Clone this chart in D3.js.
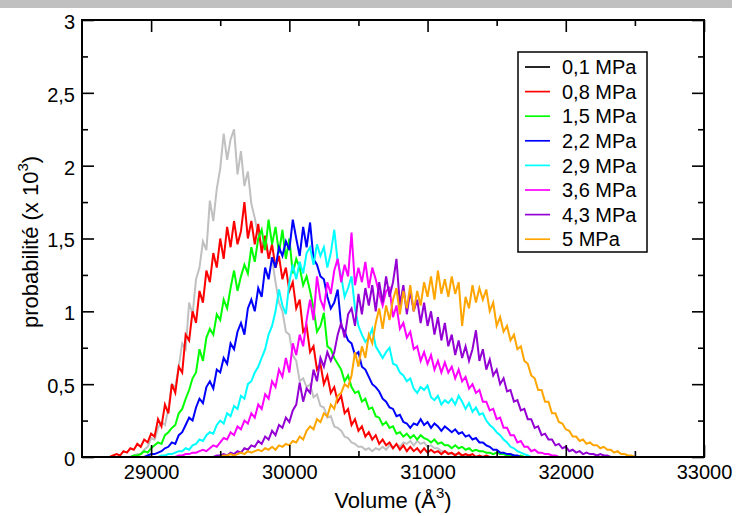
<!DOCTYPE html>
<html><head><meta charset="utf-8">
<script src="https://cdn.jsdelivr.net/npm/d3@7"></script>
<style>
body{margin:0;background:#fff}
svg{display:block}
text{font-family:"Liberation Sans",Arial,Helvetica,sans-serif;fill:#000}
</style>
</head><body>
<svg id="chart" width="736" height="516"></svg>
<script>
// ---------- data ----------
const binWidth = 25; // Å^3 per histogram bin
const seriesNames = ["0,1 MPa","0,8 MPa","1,5 MPa","2,2 MPa","2,9 MPa","3,6 MPa","4,3 MPa","5 MPa"];
const lineColors = ["#c0c0c0","#ff0000","#00ff00","#0000ff","#00ffff","#ff00ff","#9400d3","#ffa500"];
const legendColors = ["#000000","#ff0000","#00ff00","#0000ff","#00ffff","#ff00ff","#9400d3","#ffa500"];
const seriesStart = [28850, 28700, 28850, 28950, 29050, 29175, 29450, 29500];

const p01 = [0,0.01,0.02,0.02,0.05,0.07,0.13,0.12,0.2,0.24,0.22,0.33,0.5,0.48,0.62,0.78,0.74,1.06,0.98,1.22,1.3,1.48,1.42,1.76,1.62,1.84,1.98,2.22,2.04,2.18,2.25,1.94,2.1,1.86,1.96,1.74,1.64,1.52,1.46,1.5,1.38,1.36,1.2,1.06,1.0,0.86,0.84,0.7,0.66,0.52,0.54,0.48,0.5,0.41,0.43,0.35,0.34,0.27,0.28,0.21,0.2,0.18,0.14,0.13,0.1,0.09,0.07,0.07,0.05,0.06,0.04,0.06,0.05,0.07,0.05,0.08,0.06,0.09,0.07,0.1,0.09,0.11,0.08,0.11,0.09,0.1,0.07,0.08,0.06,0.06,0.04,0.04,0.03,0.02,0.02,0.02,0.01,0.01,0.01,0,0];
const p08 = [0,0.01,0.02,0.01,0.04,0.03,0.06,0.05,0.09,0.07,0.12,0.1,0.16,0.14,0.26,0.21,0.36,0.3,0.5,0.44,0.62,0.58,0.84,0.8,1.0,0.92,1.14,1.06,1.28,1.2,1.4,1.3,1.5,1.36,1.58,1.44,1.62,1.46,1.55,1.75,1.5,1.62,1.46,1.6,1.4,1.52,1.36,1.46,1.3,1.38,1.22,1.3,1.14,1.2,1.02,1.08,0.86,0.9,0.72,0.76,0.6,0.64,0.5,0.56,0.44,0.48,0.38,0.42,0.3,0.33,0.22,0.26,0.18,0.21,0.14,0.17,0.12,0.15,0.09,0.12,0.08,0.1,0.06,0.09,0.05,0.08,0.04,0.07,0.04,0.06,0.03,0.06,0.03,0.05,0.03,0.04,0.02,0.04,0.02,0.03,0.01,0.03,0.01,0.02,0.01,0.02,0,0.01,0,0.01,0];
const p15 = [0,0.01,0.01,0.02,0.04,0.03,0.06,0.08,0.1,0.09,0.15,0.17,0.2,0.22,0.3,0.33,0.4,0.46,0.54,0.58,0.74,0.66,0.82,0.88,0.84,0.98,0.94,1.08,1.02,1.16,1.28,1.14,1.24,1.32,1.26,1.44,1.34,1.5,1.56,1.42,1.63,1.46,1.58,1.4,1.56,1.36,1.5,1.26,1.36,1.3,1.18,1.24,1.14,1.02,0.86,0.9,0.99,0.76,0.74,0.68,0.64,0.6,0.52,0.56,0.48,0.44,0.45,0.38,0.4,0.33,0.34,0.28,0.27,0.22,0.24,0.2,0.21,0.16,0.17,0.14,0.16,0.13,0.15,0.12,0.15,0.13,0.12,0.1,0.12,0.09,0.1,0.08,0.08,0.06,0.08,0.06,0.07,0.05,0.06,0.04,0.05,0.04,0.04,0.03,0.03,0.02,0.03,0.02,0.02,0.01,0.01,0.01,0,0.01,0];
const p22 = [0,0.01,0.02,0.02,0.03,0.04,0.06,0.07,0.1,0.09,0.15,0.17,0.22,0.27,0.25,0.34,0.4,0.37,0.48,0.52,0.47,0.6,0.58,0.68,0.64,0.78,0.74,0.86,0.92,0.84,1.02,1.08,1.0,1.16,1.1,1.3,1.22,1.37,1.3,1.44,1.38,1.48,1.42,1.63,1.5,1.38,1.58,1.44,1.61,1.36,1.32,1.24,1.22,1.1,1.02,1.06,1.15,0.9,0.86,0.8,0.78,0.7,0.72,0.62,0.6,0.55,0.5,0.48,0.45,0.4,0.38,0.34,0.33,0.28,0.29,0.24,0.23,0.2,0.23,0.22,0.26,0.22,0.24,0.2,0.23,0.21,0.18,0.21,0.19,0.17,0.19,0.16,0.17,0.14,0.15,0.12,0.13,0.1,0.1,0.08,0.07,0.05,0.05,0.03,0.03,0.02,0.02,0.01,0.01,0];
const p29 = [0,0.01,0.01,0.02,0.02,0.03,0.04,0.04,0.06,0.05,0.08,0.09,0.12,0.11,0.15,0.17,0.16,0.22,0.25,0.23,0.3,0.28,0.35,0.33,0.42,0.4,0.5,0.52,0.58,0.62,0.68,0.74,0.84,0.9,1.0,1.15,1.04,0.98,1.2,1.32,1.22,1.34,1.26,1.4,1.44,1.32,1.46,1.38,1.44,1.3,1.4,1.56,1.34,1.24,1.1,1.16,1.24,1.02,0.9,0.84,0.79,0.82,0.88,0.76,0.72,0.68,0.72,0.75,0.64,0.63,0.58,0.56,0.52,0.54,0.47,0.44,0.48,0.46,0.49,0.41,0.39,0.42,0.36,0.39,0.37,0.4,0.36,0.42,0.38,0.33,0.37,0.31,0.34,0.29,0.3,0.25,0.22,0.2,0.17,0.15,0.12,0.1,0.07,0.06,0.04,0.03,0.02,0.01,0];
const p36 = [0,0.01,0.01,0.02,0.02,0.03,0.03,0.04,0.05,0.04,0.06,0.08,0.07,0.1,0.13,0.12,0.17,0.15,0.21,0.19,0.25,0.23,0.3,0.27,0.36,0.33,0.43,0.4,0.52,0.48,0.6,0.55,0.68,0.58,0.78,0.7,0.84,0.76,0.94,1.08,0.94,1.24,1.08,1.02,1.2,1.12,1.28,1.36,1.2,1.32,1.24,1.54,1.18,1.3,1.2,1.34,1.16,1.3,1.22,1.12,1.04,1.14,1.16,0.96,1.04,0.88,0.92,0.82,0.86,0.74,0.76,0.66,0.72,0.64,0.7,0.6,0.66,0.58,0.65,0.58,0.62,0.54,0.6,0.52,0.55,0.47,0.5,0.44,0.46,0.38,0.38,0.32,0.33,0.26,0.27,0.2,0.2,0.15,0.15,0.1,0.11,0.07,0.07,0.04,0.05,0.03,0.03,0.02,0.02,0.01,0.01,0];
const p43 = [0,0.01,0.01,0.02,0.01,0.03,0.02,0.04,0.03,0.06,0.05,0.08,0.07,0.11,0.09,0.14,0.12,0.18,0.15,0.22,0.2,0.27,0.24,0.32,0.36,0.51,0.38,0.47,0.44,0.6,0.52,0.68,0.62,0.72,0.66,0.72,0.84,0.92,0.82,0.98,1.02,0.9,1.12,0.98,1.16,1.04,1.18,1.0,1.2,1.06,1.24,1.1,1.2,1.36,1.04,1.18,0.98,1.14,1.0,1.08,0.92,1.06,0.9,1.0,0.84,0.96,0.8,0.92,0.76,0.84,0.7,0.8,0.68,0.76,0.66,0.74,0.87,0.66,0.74,0.6,0.67,0.56,0.6,0.5,0.54,0.45,0.46,0.38,0.39,0.32,0.33,0.26,0.26,0.2,0.21,0.15,0.16,0.12,0.12,0.08,0.09,0.06,0.07,0.04,0.05,0.03,0.04,0.02,0.03,0.02,0.02,0.01,0.02,0.01,0.01,0];
const p50 = [0,0.01,0.01,0.02,0.01,0.02,0.03,0.02,0.04,0.03,0.04,0.05,0.04,0.06,0.05,0.07,0.05,0.08,0.07,0.09,0.08,0.11,0.1,0.14,0.12,0.18,0.21,0.19,0.26,0.24,0.3,0.28,0.36,0.33,0.42,0.44,0.5,0.48,0.56,0.72,0.62,0.76,0.68,0.84,0.78,0.92,1.02,0.88,1.04,0.94,1.08,1.16,0.98,1.14,1.02,1.18,1.0,1.14,1.04,1.2,1.1,1.24,1.08,1.28,1.12,1.22,1.1,1.24,1.12,1.2,0.9,1.1,1.02,1.18,1.06,1.16,1.08,1.15,1.0,1.06,0.9,0.96,0.86,0.9,0.8,0.84,0.74,0.76,0.66,0.64,0.56,0.54,0.46,0.46,0.38,0.38,0.3,0.3,0.24,0.23,0.19,0.18,0.14,0.14,0.11,0.12,0.09,0.1,0.08,0.08,0.06,0.07,0.05,0.05,0.03,0.04,0.02,0.02,0.01,0.01,0];
const seriesValues = [p01, p08, p15, p22, p29, p36, p43, p50];

const xDomain = [28500, 33000];
const yDomain = [0, 3];
const xTickMajor = [29000, 30000, 31000, 32000, 33000];
const xTickMinor = [29500, 30500, 31500, 32500];
const yTickMajor = [0, 0.5, 1, 1.5, 2, 2.5, 3];
const yTickMinor = [0.25, 0.75, 1.25, 1.75, 2.25, 2.75];

// ---------- layout ----------
const W = 736, H = 516;
const m = {left: 82, top: 20, right: 704, bottom: 457};
const svg = d3.select("#chart");
svg.append("rect").attr("width", W).attr("height", H).attr("fill", "#fff");
svg.append("rect").attr("x", 0).attr("y", 0).attr("width", 732).attr("height", 8).attr("fill", "#c0c0c0");

const x = d3.scaleLinear().domain(xDomain).range([m.left, m.right]);
const y = d3.scaleLinear().domain(yDomain).range([m.bottom, m.top]);
const fmt = d => String(d).replace(".", ",");

// series
const line = d3.line().x(d => x(d[0])).y(d => y(d[1]));
seriesValues.forEach((vals, i) => {
  const pts = vals.map((v, k) => [seriesStart[i] + k * binWidth, v]);
  svg.append("path").datum(pts).attr("d", line)
    .attr("fill", "none").attr("stroke", lineColors[i])
    .attr("stroke-width", 2).attr("stroke-linejoin", "miter");
});

// axes
function styleAxis(g) {
  g.select(".domain").remove();
  g.selectAll(".tick line").attr("stroke", "#000").attr("stroke-width", 1.6);
  g.selectAll("text").attr("font-size", 20).attr("font-family", '"Liberation Sans",Arial,sans-serif').attr("fill", "#000");
}
svg.append("g").attr("transform", `translate(0,${m.bottom})`)
  .call(d3.axisBottom(x).tickValues(xTickMajor).tickSize(-12).tickPadding(8).tickFormat(fmt)).call(styleAxis);
svg.append("g").attr("transform", `translate(0,${m.bottom})`)
  .call(d3.axisBottom(x).tickValues(xTickMinor).tickSize(-6).tickFormat("")).call(styleAxis);
svg.append("g").attr("transform", `translate(0,${m.top})`)
  .call(d3.axisTop(x).tickValues(xTickMajor).tickSize(-12).tickFormat("")).call(styleAxis);
svg.append("g").attr("transform", `translate(0,${m.top})`)
  .call(d3.axisTop(x).tickValues(xTickMinor).tickSize(-6).tickFormat("")).call(styleAxis);
svg.append("g").attr("transform", `translate(${m.left},0)`)
  .call(d3.axisLeft(y).tickValues(yTickMajor).tickSize(-12).tickPadding(7).tickFormat(fmt)).call(styleAxis)
  .selectAll("text").attr("dy", "0.42em");
svg.append("g").attr("transform", `translate(${m.left},0)`)
  .call(d3.axisLeft(y).tickValues(yTickMinor).tickSize(-6).tickFormat("")).call(styleAxis);
svg.append("g").attr("transform", `translate(${m.right},0)`)
  .call(d3.axisRight(y).tickValues(yTickMajor).tickSize(-12).tickFormat("")).call(styleAxis);
svg.append("g").attr("transform", `translate(${m.right},0)`)
  .call(d3.axisRight(y).tickValues(yTickMinor).tickSize(-6).tickFormat("")).call(styleAxis);

// frame
svg.append("rect").attr("x", m.left).attr("y", m.top)
  .attr("width", m.right - m.left).attr("height", m.bottom - m.top)
  .attr("fill", "none").attr("stroke", "#000").attr("stroke-width", 2);

// axis titles
const xt = svg.append("text").attr("x", (m.left + m.right) / 2).attr("y", 508)
  .attr("text-anchor", "middle").attr("font-size", 22);
xt.append("tspan").text("Volume (Å");
xt.append("tspan").attr("dy", -10).attr("font-size", 15).text("3");
xt.append("tspan").attr("dy", 10).text(")");

const yt = svg.append("text").attr("transform", `translate(38,242) rotate(-90)`)
  .attr("text-anchor", "middle").attr("font-size", 22);
yt.append("tspan").text("probabilité (x 10");
yt.append("tspan").attr("dy", -10).attr("font-size", 15).text("3");
yt.append("tspan").attr("dy", 10).text(")");

// legend
const lg = svg.append("g");
lg.append("rect").attr("x", 518).attr("y", 52).attr("width", 129).attr("height", 200)
  .attr("fill", "#fff").attr("stroke", "#000").attr("stroke-width", 1.5);
seriesNames.forEach((name, i) => {
  const yy = 67 + i * 24.6;
  lg.append("line").attr("x1", 525).attr("x2", 550).attr("y1", yy).attr("y2", yy)
    .attr("stroke", legendColors[i]).attr("stroke-width", 1.7);
  lg.append("text").attr("x", 562).attr("y", yy).attr("dy", "0.36em")
    .attr("font-size", 20).text(name);
});
</script>
</body></html>
